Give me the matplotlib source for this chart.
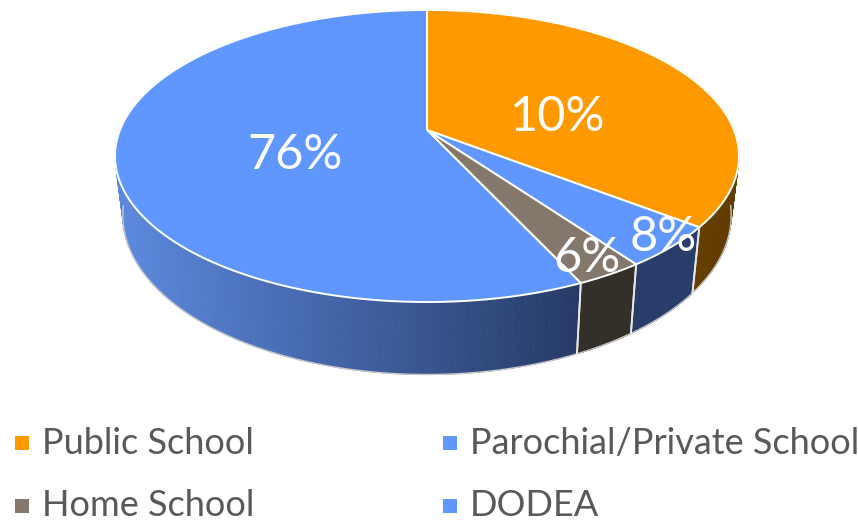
import numpy as np
import matplotlib
matplotlib.use('Agg')
import matplotlib.pyplot as plt
from matplotlib.collections import PolyCollection
from matplotlib.colors import to_rgb

plt.rcParams['font.family'] = ['Lato', 'DejaVu Sans']

# slice shares as drawn (they do not follow the printed labels)
categories = ['Public School', 'Parochial/Private School', 'Home School', 'DODEA']
shares = [35.5, 4.6, 3.0, 56.9]
labels = ['10%', '8%', '6%', '76%']

top_colors = ['#FF9900', '#6097FF', '#84786C', '#6097FF']
wall_colors = ['#633D00', '#283D69', '#352F2A', None]

# perspective disc, in pixels
CX, CY = 427, 130
A, B, C = 307.0, 141.4, 0.178
DEPTH, SHRINK_X, SHRINK_Y = 57, 0.975, 1.09

label_pos = [(558, 117), (663, 237), (587, 258), (295, 155)]
legend_pos = [(14, 443), (14, 506), (442, 443), (442, 506)]
legend_order = [0, 2, 1, 3]


def project(theta, bottom=False):
    """theta in degrees, clockwise from the top of the disc."""
    t = np.radians(theta)
    u, v = np.sin(t), np.cos(t)
    x = A * u / (1 + C * v)
    y = B * v / (1 + C * v)
    if bottom:
        return CX + x * SHRINK_X, CY - y * SHRINK_Y + DEPTH
    return CX + x, CY - y


fig = plt.figure(figsize=(8.58, 5.21), dpi=100)
ax = fig.add_axes([0, 0, 1, 1])
ax.set_xlim(0, 858)
ax.set_ylim(521, 0)
ax.axis('off')

edges = np.concatenate([[0], np.cumsum(shares) / np.sum(shares) * 360])

# ── Walls ─────────────────────────────────────────────────
for i, wall in enumerate(wall_colors):
    th = np.linspace(edges[i], edges[i + 1], 240)
    xt, yt = project(th)
    xb, yb = project(th, bottom=True)
    quads, cols = [], []
    for j in range(len(th) - 1):
        quads.append([(xt[j], yt[j]), (xt[j + 1], yt[j + 1]),
                      (xb[j + 1], yb[j + 1]), (xb[j], yb[j])])
        if wall is None:
            # horizontal shading on the big slice wall
            f = np.clip((xt[j] - 120) / (580 - 120), 0, 1)
            c = (1 - f) * np.array(to_rgb('#5C89DE')) + f * np.array(to_rgb('#263B67'))
        else:
            c = to_rgb(wall)
        cols.append(c)
    ax.add_collection(PolyCollection(quads, facecolors=cols, edgecolors=cols,
                                     linewidths=0.6, zorder=2))
    # rim line only along the visible front of the wall
    front = yb > 205
    ax.plot(np.where(front, xb, np.nan), yb, color='#C8C8C8', lw=1.0, zorder=3)
    # white seams between wall pieces
    for k in (0, -1):
        if yt[k] > 150:
            ax.plot([xt[k], xb[k]], [yt[k], yb[k]], color='#E8E8E8', lw=1.3, zorder=3)

# ── Top face ──────────────────────────────────────────────
for i, col in enumerate(top_colors):
    th = np.linspace(edges[i], edges[i + 1], 300)
    xt, yt = project(th)
    ax.fill(np.r_[CX, xt], np.r_[CY, yt], facecolor=col, edgecolor='white',
            lw=1.4, joinstyle='round', zorder=4)

for (x, y), txt in zip(label_pos, labels):
    ax.text(x, y, txt, color='white', fontsize=35, ha='center', va='center', zorder=5)

# ── Legend ────────────────────────────────────────────────
for (x, y), idx in zip(legend_pos, legend_order):
    ax.scatter([x + 7.5], [y], marker='s', s=115, color=top_colors[idx], linewidths=0, zorder=5)
    ax.text(x + 28, y, categories[idx], color='#595959', fontsize=26, ha='left',
            va='center', zorder=5)

fig.savefig('out.png', dpi=100)
